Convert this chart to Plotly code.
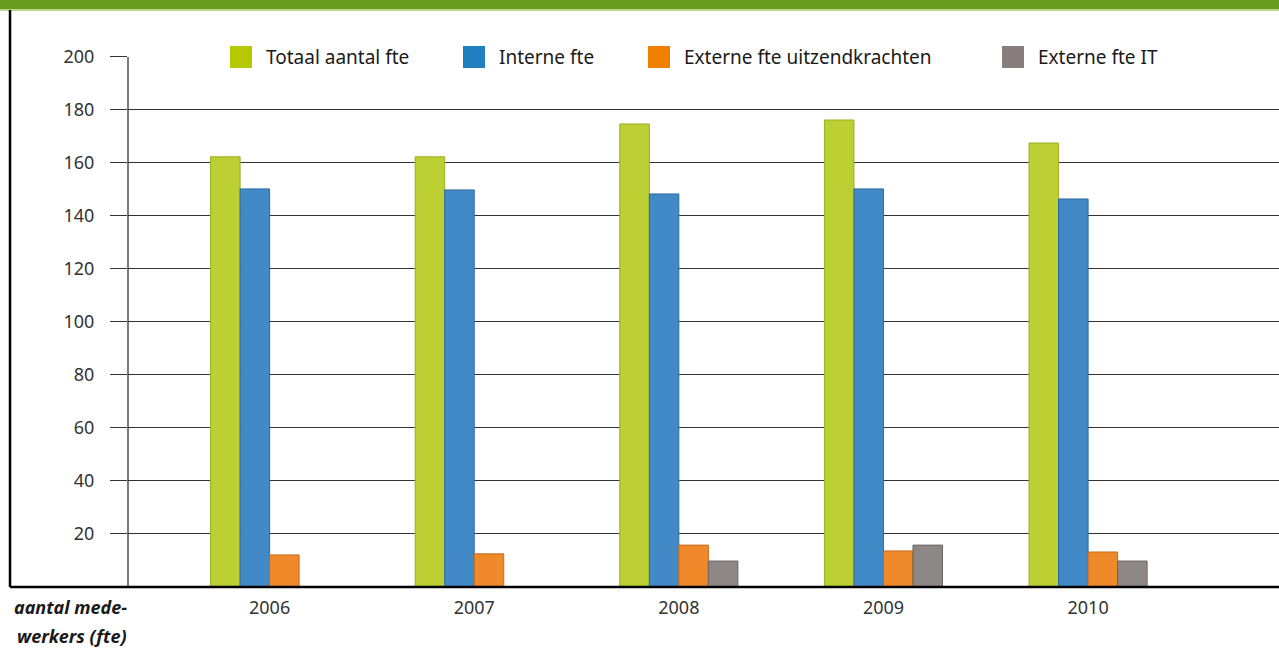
import plotly.graph_objects as go

# data
years = ['2006', '2007', '2008', '2009', '2010']
totaal = [162.3, 162.3, 174.7, 176.2, 167.5]
intern = [150.2, 149.8, 148.3, 150.2, 146.4]
uitzend = [12.1, 12.5, 15.8, 13.6, 13.2]
extern_it = [None, None, 9.8, 15.8, 9.8]

names = ['Totaal aantal fte', 'Interne fte', 'Externe fte uitzendkrachten', 'Externe fte IT']
series = [totaal, intern, uitzend, extern_it]
bar_colors = ['#bccf33', '#4189c7', '#f0892a', '#8d8785']
edge_colors = ['#9aad24', '#30699c', '#c46c1e', '#6c6663']
key_colors = ['#b5c800', '#1f7fc1', '#f08000', '#877d7a']

FONT = 'Noto Sans'
TXT = '#333333'

fig = go.Figure()
for nm, vals, c, ec in zip(names, series, bar_colors, edge_colors):
    fig.add_trace(go.Bar(x=years, y=vals, name=nm,
                         marker=dict(color=c, line=dict(color=ec, width=1))))

fig.update_layout(width=1279, height=648,
                  margin=dict(l=128, r=0, t=10, b=61),
                  barmode='group', bargap=0.423, bargroupgap=0,
                  showlegend=False,
                  plot_bgcolor='white', paper_bgcolor='white',
                  font=dict(family=FONT, color=TXT))

fig.update_xaxes(type='category', range=[-0.692, 4.933],
                 showgrid=False, zeroline=False, showline=False,
                 ticks='', tickfont=dict(size=18, color=TXT),
                 ticklabelstandoff=8)

fig.update_yaxes(range=[0, 217.7], tickvals=list(range(20, 201, 20)),
                 showgrid=False, zeroline=False, showline=False,
                 ticks='outside', ticklen=17, tickwidth=1.3, tickcolor='#333333',
                 tickfont=dict(size=18, color=TXT), ticklabelstandoff=12,
                 minor=dict(tickmode='array', tickvals=list(range(20, 181, 20)),
                            showgrid=True, gridcolor='#333333', gridwidth=1.3,
                            ticks=''))

# header band, frame and axis lines
fig.add_shape(type='rect', xref='paper', yref='paper', x0=-0.12, x1=1.01,
              y0=1.0, y1=1.03, fillcolor='#679c1f', line_width=0, layer='above')
fig.add_shape(type='line', xref='paper', yref='paper', x0=-0.12, x1=1.01,
              y0=1.0, y1=1.0, line=dict(color='#b9d68d', width=2))
fig.add_shape(type='line', xref='paper', yref='paper', x0=-0.1025, x1=-0.1025,
              y0=0, y1=1, line=dict(color='black', width=2.5))
fig.add_shape(type='line', xref='paper', yref='y', x0=0, x1=0,
              y0=-3.8, y1=200, line=dict(color='#222222', width=1.2))
fig.add_shape(type='line', xref='paper', yref='paper', x0=-0.1025, x1=1.0,
              y0=0, y1=0, line=dict(color='black', width=2.5), layer='above')

# custom legend row
key_x = [230, 463, 648, 1002]
for nm, kc, px in zip(names, key_colors, key_x):
    x0 = (px - 128) / 1151
    fig.add_shape(type='rect', xref='paper', yref='paper',
                  x0=x0, x1=x0 + 22 / 1151,
                  y0=(587 - 68) / 577, y1=(587 - 46) / 577,
                  fillcolor=kc, line_width=0)
    fig.add_annotation(xref='paper', yref='paper', x=x0 + 34 / 1151,
                       y=(587 - 57) / 577, text=nm, showarrow=False,
                       xanchor='left', yanchor='middle',
                       font=dict(size=19, color='#1a1a1a'))

# axis title, two lines
for txt, py in [('aantal mede-', 607), ('werkers (fte)', 636)]:
    fig.add_annotation(xref='paper', yref='paper', x=0.001, y=(587 - py) / 577,
                       text='<b><i>' + txt + '</i></b>',
                       showarrow=False, xanchor='right', yanchor='middle',
                       font=dict(size=18, color='#1a1a1a'))

fig.write_html('out.html', config={'displayModeBar': False},
               post_script="document.body.style.margin='0';")
